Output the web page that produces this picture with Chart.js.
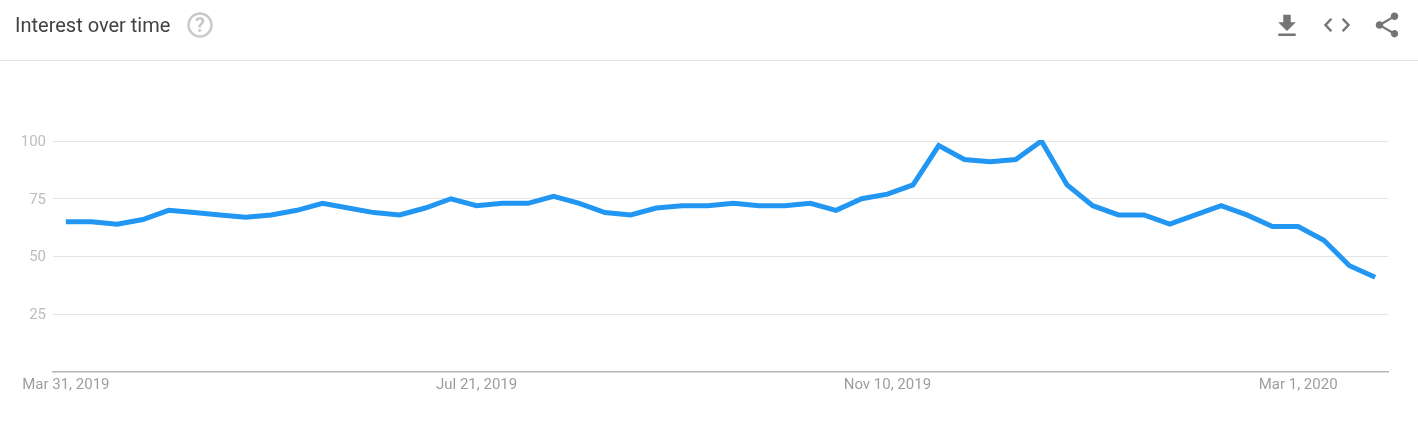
<!DOCTYPE html>
<html>
<head>
<meta charset="utf-8">
<title>Interest over time</title>
<script src="https://cdn.jsdelivr.net/npm/chart.js@4/dist/chart.umd.min.js"></script>
<style>
    html, body { margin: 0; padding: 0; background: #fff; overflow: hidden; }
    body { width: 1418px; height: 428px; position: relative; font-family: Roboto, sans-serif; }
    #header { position: absolute; left: 0; top: 0; width: 1418px; height: 60px; border-bottom: 1px solid #e4e4e4; }
    #title { position: absolute; left: 15px; top: 14px; font-size: 20px; line-height: 22px; color: #424242; }
    #help { position: absolute; left: 186px; top: 11px; }
    .icon { position: absolute; top: 10px; }
    #chartWrap { position: absolute; left: 0; top: 0; width: 1418px; height: 428px; }
</style>
</head>
<body>
<div id="chartWrap"><canvas id="trendChart"></canvas></div>
<div id="header">
    <div id="title">Interest over time</div>
    <svg id="help" width="28" height="28" viewBox="0 0 28 28">
        <circle cx="14" cy="14" r="11.5" fill="none" stroke="#c9c9c9" stroke-width="2.4"/>
        <text x="14" y="21" text-anchor="middle" font-family="Roboto" font-weight="700" font-size="20" fill="#c9c9c9">?</text>
    </svg>
    <svg class="icon" style="left:1272px;top:11px" width="30" height="30" viewBox="0 0 24 24" fill="#757575"><path d="M19 9h-4V3H9v6H5l7 7 7-7zM5 18v2h14v-2H5z"/></svg>
    <svg class="icon" style="left:1322px" width="30" height="30" viewBox="0 0 24 24" fill="none" stroke="#757575" stroke-width="2"><path d="M7.500 7 2.800 12l4.700 5M16.500 7l4.700 5-4.700 5"/></svg>
    <svg class="icon" style="left:1372px" width="30" height="30" viewBox="0 0 24 24" fill="#757575"><path d="M18 16.080c-.76 0-1.440.3-1.960.77L8.910 12.700c.05-.23.090-.46.090-.7s-.04-.47-.09-.7l7.050-4.110c.54.5 1.250.81 2.040.81 1.660 0 3-1.340 3-3s-1.340-3-3-3-3 1.340-3 3c0 .24.040.47.090.7L8.040 9.810C7.500 9.310 6.790 9 6 9c-1.660 0-3 1.340-3 3s1.340 3 3 3c.79 0 1.500-.31 2.040-.81l7.120 4.160c-.05.21-.08.43-.08.650 0 1.610 1.310 2.920 2.920 2.920s2.920-1.310 2.920-2.920-1.310-2.920-2.920-2.920z"/></svg>
</div>
<script>
const weeks = [
    'Mar 31, 2019', 'Apr 7, 2019', 'Apr 14, 2019', 'Apr 21, 2019', 'Apr 28, 2019',
    'May 5, 2019', 'May 12, 2019', 'May 19, 2019', 'May 26, 2019',
    'Jun 2, 2019', 'Jun 9, 2019', 'Jun 16, 2019', 'Jun 23, 2019', 'Jun 30, 2019',
    'Jul 7, 2019', 'Jul 14, 2019', 'Jul 21, 2019', 'Jul 28, 2019',
    'Aug 4, 2019', 'Aug 11, 2019', 'Aug 18, 2019', 'Aug 25, 2019',
    'Sep 1, 2019', 'Sep 8, 2019', 'Sep 15, 2019', 'Sep 22, 2019', 'Sep 29, 2019',
    'Oct 6, 2019', 'Oct 13, 2019', 'Oct 20, 2019', 'Oct 27, 2019',
    'Nov 3, 2019', 'Nov 10, 2019', 'Nov 17, 2019', 'Nov 24, 2019',
    'Dec 1, 2019', 'Dec 8, 2019', 'Dec 15, 2019', 'Dec 22, 2019', 'Dec 29, 2019',
    'Jan 5, 2020', 'Jan 12, 2020', 'Jan 19, 2020', 'Jan 26, 2020',
    'Feb 2, 2020', 'Feb 9, 2020', 'Feb 16, 2020', 'Feb 23, 2020',
    'Mar 1, 2020', 'Mar 8, 2020', 'Mar 15, 2020', 'Mar 22, 2020'
];
const interest = [
    65, 65, 64, 66, 70, 69, 68, 67, 68, 70, 73, 71, 69,
    68, 71, 75, 72, 73, 73, 76, 73, 69, 68, 71, 72, 72,
    73, 72, 72, 73, 70, 75, 77, 81, 98, 92, 91, 92, 100,
    81, 72, 68, 68, 64, 68, 72, 68, 63, 63, 57, 46, 41
];
const xTickLabels = ['Mar 31, 2019', 'Jul 21, 2019', 'Nov 10, 2019', 'Mar 1, 2020'];
const yTickLabels = [25, 50, 75, 100];

new Chart(document.getElementById('trendChart'), {
    type: 'line',
    data: {
        labels: weeks,
        datasets: [{
            label: 'Interest',
            data: interest,
            borderColor: '#2196f3',
            borderWidth: 5,
            pointRadius: 0,
            tension: 0,
            fill: false,
            borderJoinStyle: 'miter',
            clip: 1
        }]
    },
    options: {
        responsive: true,
        maintainAspectRatio: false,
        animation: false,
        // chart area has to land on x 53-1388, y 141-372
        layout: { padding: { top: 141, right: 30, bottom: 16, left: 0 } },
        plugins: { legend: { display: false }, tooltip: { enabled: false } },
        scales: {
            x: {
                type: 'category',
                offset: true,
                afterFit: (scale) => { scale.height = 40; },
                grid: { display: false },
                border: { display: true, color: '#b5b5b5', width: 1.5 },
                ticks: {
                    autoSkip: false,
                    maxRotation: 0,
                    minRotation: 0,
                    padding: -4,
                    color: '#9e9e9e',
                    font: { family: 'Roboto', size: 15 },
                    callback: function (value) {
                        const label = this.getLabelForValue(value);
                        return xTickLabels.includes(label) ? label : '';
                    }
                }
            },
            y: {
                min: 0,
                max: 100,
                afterFit: (scale) => { scale.width = 53; },
                afterBuildTicks: (scale) => {
                    scale.ticks = [0].concat(yTickLabels).map((v) => ({ value: v }));
                },
                grid: {
                    color: (ctx) => (ctx.tick.value === 0 ? 'rgba(0,0,0,0)' : '#e4e4e4'),
                    drawTicks: false
                },
                border: { display: false },
                ticks: {
                    padding: 7,
                    labelOffset: 1,
                    color: '#bdbdbd',
                    font: { family: 'Roboto', size: 15 },
                    callback: (value) => (yTickLabels.includes(value) ? String(value) : '')
                }
            }
        }
    }
});
</script>
</body>
</html>
